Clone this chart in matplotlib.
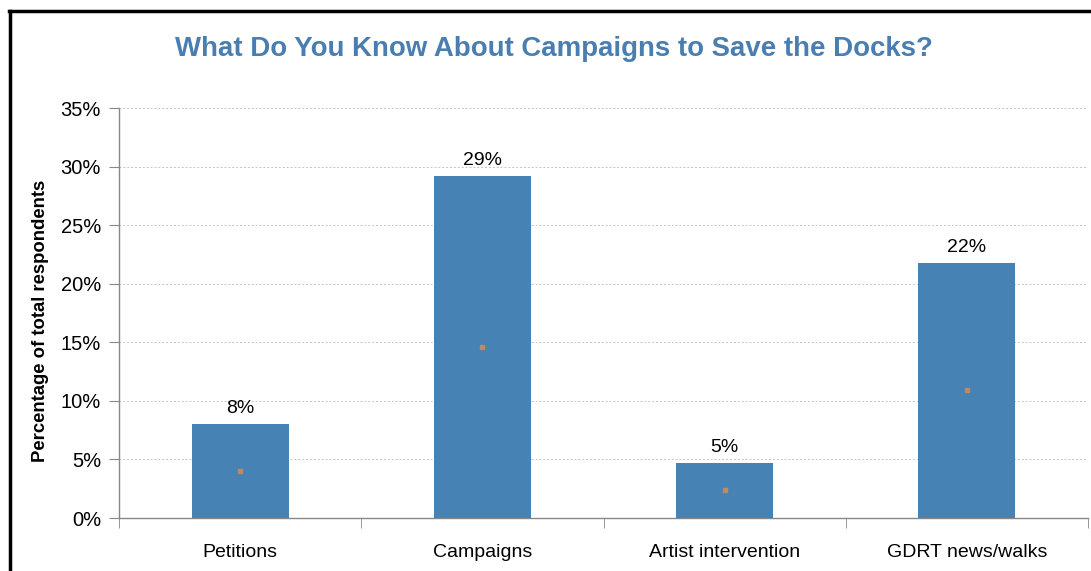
import numpy as np
import matplotlib
matplotlib.use('agg')
import matplotlib.pyplot as plt
from matplotlib.lines import Line2D
from matplotlib.ticker import FuncFormatter, MultipleLocator, FixedLocator

plt.rcParams['font.family'] = ['Liberation Sans', 'DejaVu Sans']

categories = ['Petitions', 'Campaigns', 'Artist intervention', 'GDRT news/walks']
values = [8.0, 29.2, 4.7, 21.8]
labels = ['8%', '29%', '5%', '22%']

bar_color = '#4682b4'
title_color = '#4a7eb0'

fig = plt.figure(figsize=(10.91, 5.71), dpi=100)
ax = fig.add_axes([119 / 1091, 53 / 571, (1088 - 119) / 1091, (518 - 108) / 571])

x = np.arange(len(categories))
ax.bar(x, values, width=0.4, color=bar_color, zorder=3)
# small marker at the centre of each bar
ax.plot(x, np.array(values) / 2, 's', ms=3, color='#c08a60', zorder=4)

for xi, v, lab in zip(x, values, labels):
    ax.text(xi, v + 0.6, lab, ha='center', va='bottom', fontsize=14)

ax.set_xlim(-0.5, len(categories) - 0.5)
ax.set_ylim(0, 35)
ax.yaxis.set_major_locator(MultipleLocator(5))
ax.yaxis.set_major_formatter(FuncFormatter(lambda v, p: '%d%%' % v))
ax.grid(axis='y', linestyle=(0, (2, 2)), color='#c4c4c4', linewidth=0.7, zorder=0)

ax.set_xticks(x)
ax.set_xticklabels(categories, fontsize=14)
ax.xaxis.set_minor_locator(FixedLocator(np.arange(-0.5, len(categories), 1.0)))
ax.tick_params(axis='x', which='major', length=0, pad=19)
ax.tick_params(axis='x', which='minor', length=7, color='#888888', direction='out')
ax.tick_params(axis='y', length=7, color='#888888', labelsize=14.5, pad=6)

for side in ['top', 'right']:
    ax.spines[side].set_visible(False)
for side in ['left', 'bottom']:
    ax.spines[side].set_color('#888888')
    ax.spines[side].set_linewidth(1)

ax.set_ylabel('Percentage of total respondents', fontsize=13.3, fontweight='bold')
ax.yaxis.set_label_coords(-0.072, 0.48)

fig.text(554 / 1091, 1 - 49 / 571, 'What Do You Know About Campaigns to Save the Docks?',
         ha='center', va='center', fontsize=19.9, fontweight='bold', color=title_color)

# outer frame, open at right and bottom
fig.add_artist(Line2D([10 / 1091, 10 / 1091], [0, 1 - 11 / 571], color='black', lw=2.5,
                      transform=fig.transFigure))
fig.add_artist(Line2D([9 / 1091, 1], [1 - 11 / 571, 1 - 11 / 571], color='black', lw=2.5,
                      transform=fig.transFigure))

fig.savefig('out.png', dpi=100)
